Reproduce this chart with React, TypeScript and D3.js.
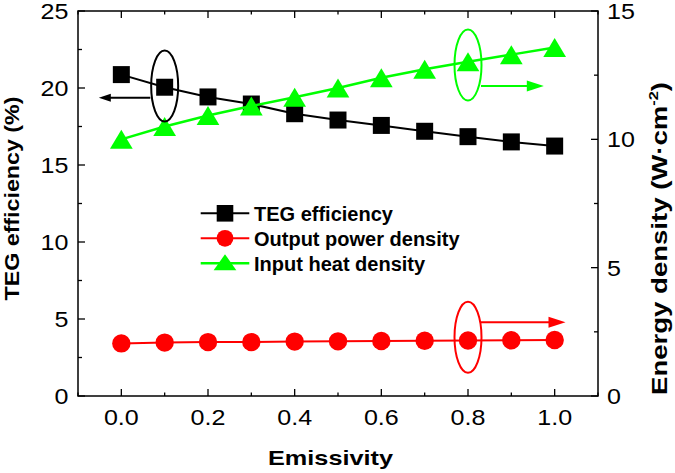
import React, { useRef, useEffect } from 'react';
import * as d3 from 'd3';

// 发射率 - 横轴
const emissivity = [0, 0.1, 0.2, 0.3, 0.4, 0.5, 0.6, 0.7, 0.8, 0.9, 1.0];
// TEG 效率 (%) - 左轴
const tegEfficiency = [20.87, 20.05, 19.42, 18.96, 18.33, 17.92, 17.57, 17.19, 16.84, 16.5, 16.23];
// 输出功率密度 (W·cm-2) - 右轴
const outputPower = [2.05, 2.08, 2.1, 2.1, 2.12, 2.13, 2.14, 2.15, 2.16, 2.17, 2.18];
// 输入热密度 (W·cm-2) - 右轴
const inputHeat = [10.0, 10.5, 10.93, 11.3, 11.64, 12.0, 12.4, 12.73, 13.02, 13.3, 13.58];

const xTicks = [0, 0.2, 0.4, 0.6, 0.8, 1.0];
const leftTicks = [0, 5, 10, 15, 20, 25];
const rightTicks = [0, 5, 10, 15];
const legendLabels = ['TEG efficiency', 'Output power density', 'Input heat density'];

// 标注椭圆 + 箭头 (数据坐标)
const annotations = [
  { color: '#000', axis: 'left', cx: 0.1, cy: 20.13, from: 0.067, to: -0.052, ay: 19.37, head: [12, 8] },
  { color: '#00ff00', axis: 'right', cx: 0.8, cy: 12.9, from: 0.83, to: 0.975, ay: 12.08, head: [17, 11] },
  { color: '#ff0000', axis: 'right', cx: 0.8, cy: 2.29, from: 0.83, to: 1.025, ay: 2.87, head: [17, 11] },
];

export default function App() {
  const svgRef = useRef<SVGSVGElement>(null);

  useEffect(() => {
    document.body.style.margin = '0';
    if (!svgRef.current) return;
    const svg = d3.select(svgRef.current);
    svg.selectAll('*').remove();

    const W = 675, H = 473;
    const m = { left: 78, right: 598, top: 11, bottom: 396 };
    const font = '"Liberation Sans", Arial, sans-serif';

    const x = d3.scaleLinear().domain([-0.1, 1.1]).range([m.left, m.right]);
    const yL = d3.scaleLinear().domain([0, 25]).range([m.bottom, m.top]);
    const yR = d3.scaleLinear().domain([0, 15]).range([m.bottom, m.top]);

    svg.attr('width', W).attr('height', H);
    svg.append('rect').attr('width', W).attr('height', H).attr('fill', '#fff');

    // 刻度线（朝内）
    const ticks = svg.append('g').attr('stroke', '#000').attr('stroke-width', 1.3);
    d3.range(-1, 12).map(i => i / 10).forEach((v, i) => {
      const len = i % 2 === 1 ? 7 : 3.5;
      ticks.append('line').attr('x1', x(v)).attr('x2', x(v)).attr('y1', m.bottom).attr('y2', m.bottom - len);
      ticks.append('line').attr('x1', x(v)).attr('x2', x(v)).attr('y1', m.top).attr('y2', m.top + len);
    });
    d3.range(0, 11).map(i => i * 2.5).forEach((v, i) => {
      const len = i % 2 === 0 ? 7 : 4;
      ticks.append('line').attr('x1', m.left).attr('x2', m.left + len).attr('y1', yL(v)).attr('y2', yL(v));
    });
    d3.range(0, 7).map(i => i * 2.5).forEach((v, i) => {
      const len = i % 2 === 0 ? 7 : 4;
      ticks.append('line').attr('x1', m.right).attr('x2', m.right - len).attr('y1', yR(v)).attr('y2', yR(v));
    });

    svg.append('rect')
      .attr('x', m.left).attr('y', m.top)
      .attr('width', m.right - m.left).attr('height', m.bottom - m.top)
      .attr('fill', 'none').attr('stroke', '#000').attr('stroke-width', 1.5);

    // 刻度标签
    const labels = svg.append('g').attr('font-family', font).attr('font-size', 22).attr('fill', '#000');
    xTicks.forEach(v => {
      labels.append('text').attr('class', 'tl').attr('x', x(v)).attr('y', 425)
        .attr('text-anchor', 'middle').text(v.toFixed(1));
    });
    leftTicks.forEach(v => {
      labels.append('text').attr('class', 'tl').attr('x', 68.5).attr('y', yL(v)).attr('dy', '0.36em')
        .attr('text-anchor', 'end').text(v);
    });
    rightTicks.forEach(v => {
      labels.append('text').attr('class', 'tl').attr('x', 607).attr('y', yR(v)).attr('dy', '0.36em')
        .attr('text-anchor', 'start').text(v);
    });
    labels.selectAll<SVGTextElement, unknown>('text.tl').each(function () {
      const w = this.getComputedTextLength();
      d3.select(this).attr('textLength', w * 1.14).attr('lengthAdjust', 'spacingAndGlyphs');
    });

    // 坐标轴标题
    const titles = svg.append('g').attr('font-family', font).attr('font-weight', 'bold').attr('fill', '#000');
    titles.append('text').attr('x', 330.5).attr('y', 465).attr('font-size', 21)
      .attr('text-anchor', 'middle').attr('textLength', 125).attr('lengthAdjust', 'spacingAndGlyphs')
      .text('Emissivity');
    titles.append('text').attr('transform', 'translate(18.5,198.5) rotate(-90)').attr('font-size', 21)
      .attr('text-anchor', 'middle').attr('textLength', 204).attr('lengthAdjust', 'spacingAndGlyphs')
      .text('TEG efficiency (%)');
    const rt = titles.append('text').attr('transform', 'translate(667,395) rotate(-90)').attr('font-size', 22)
      .attr('text-anchor', 'start').attr('textLength', 313).attr('lengthAdjust', 'spacingAndGlyphs');
    rt.append('tspan').text('Energy density (W·cm');
    rt.append('tspan').attr('font-size', 13).attr('dy', -9).text('-2');
    rt.append('tspan').attr('dy', 9).text(')');

    // 数据系列
    const square = d3.symbol().type(d3.symbolSquare).size(17 * 17);
    const tri = (cx: number, cy: number, w: number, h: number) =>
      `M${cx},${cy - h / 2}L${cx + w / 2},${cy + h / 2}L${cx - w / 2},${cy + h / 2}Z`;

    const line = (ys: number[], yScale: d3.ScaleLinear<number, number>) =>
      d3.line<number>().x((_, i) => x(emissivity[i])).y(d => yScale(d))(ys);

    // TEG efficiency
    svg.append('path').attr('d', line(tegEfficiency, yL)).attr('fill', 'none').attr('stroke', '#000').attr('stroke-width', 2);
    tegEfficiency.forEach((v, i) => {
      svg.append('path').attr('d', square()).attr('transform', `translate(${x(emissivity[i])},${yL(v)})`).attr('fill', '#000');
    });
    // Output power density
    svg.append('path').attr('d', line(outputPower, yR)).attr('fill', 'none').attr('stroke', '#ff0000').attr('stroke-width', 2);
    outputPower.forEach((v, i) => {
      svg.append('circle').attr('cx', x(emissivity[i])).attr('cy', yR(v)).attr('r', 9.2).attr('fill', '#ff0000');
    });
    // Input heat density
    svg.append('path').attr('d', line(inputHeat, yR)).attr('fill', 'none').attr('stroke', '#00ff00').attr('stroke-width', 2.5);
    inputHeat.forEach((v, i) => {
      svg.append('path').attr('d', tri(x(emissivity[i]), yR(v), 22.7, 19)).attr('fill', '#00ff00');
    });

    // 椭圆和箭头
    annotations.forEach(a => {
      const ys = a.axis === 'left' ? yL : yR;
      svg.append('ellipse').attr('cx', x(a.cx)).attr('cy', ys(a.cy)).attr('rx', 13.5).attr('ry', 35.5)
        .attr('fill', 'none').attr('stroke', a.color).attr('stroke-width', 2);
      const x1 = x(a.from), x2 = x(a.to), yy = ys(a.ay);
      const dir = Math.sign(x2 - x1);
      const [hl, hw] = a.head;
      svg.append('line').attr('x1', x1).attr('x2', x2 - dir * hl * 0.8).attr('y1', yy).attr('y2', yy)
        .attr('stroke', a.color).attr('stroke-width', 2);
      svg.append('path')
        .attr('d', `M${x2},${yy}L${x2 - dir * hl},${yy - hw / 2}L${x2 - dir * hl},${yy + hw / 2}Z`)
        .attr('fill', a.color);
    });

    // 图例
    const lg = svg.append('g');
    const colors = ['#000', '#ff0000', '#00ff00'];
    legendLabels.forEach((label, i) => {
      const yy = 213.3 + i * 25;
      lg.append('line').attr('x1', 200.7).attr('x2', 249.3).attr('y1', yy).attr('y2', yy)
        .attr('stroke', colors[i]).attr('stroke-width', i === 2 ? 2.5 : 2);
      if (i === 0) lg.append('rect').attr('x', 225 - 8.3).attr('y', yy - 8.3).attr('width', 16.6).attr('height', 16.6).attr('fill', '#000');
      if (i === 1) lg.append('circle').attr('cx', 225).attr('cy', yy).attr('r', 8.4).attr('fill', '#ff0000');
      if (i === 2) lg.append('path').attr('d', tri(225, yy - 1, 22.7, 16)).attr('fill', '#00ff00');
      lg.append('text').attr('x', 254).attr('y', yy).attr('dy', '0.36em')
        .attr('font-family', font).attr('font-weight', 'bold').attr('font-size', 20).text(label);
    });
  }, []);

  return <svg ref={svgRef} style={{ display: 'block' }} />;
}
